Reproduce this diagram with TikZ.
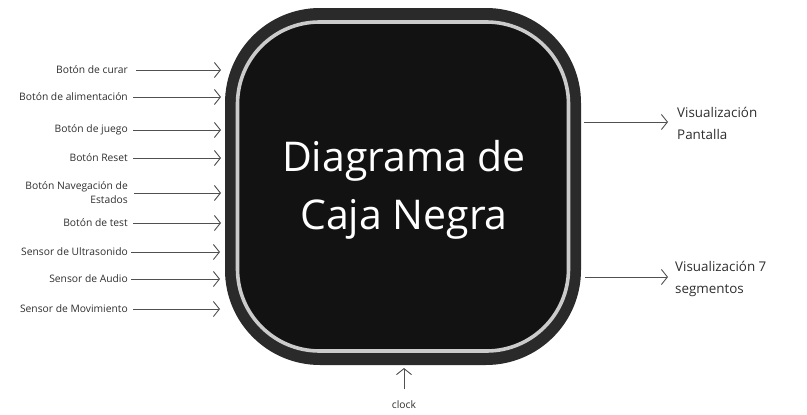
\documentclass[tikz,border=0pt]{standalone}
\usepackage{fontspec}
\setmainfont{Open Sans}
\usetikzlibrary{arrows.meta}
\definecolor{outerc}{HTML}{2B2A2A}
\definecolor{innerc}{HTML}{121212}
\definecolor{ringc}{HTML}{CBCBCB}
\definecolor{txtc}{HTML}{2E2E2E}
\definecolor{arrc}{HTML}{505050}
\tikzset{
  lbl/.style={font=\fontsize{10.3}{13}\selectfont, text=txtc, inner sep=0pt, align=right, anchor=east},
  outlbl/.style={font=\fontsize{13.4}{22}\selectfont, text=txtc, inner sep=0pt, align=left, anchor=west},
  conn/.style={draw=arrc, line width=0.9pt, -{Straight Barb[length=6pt,width=15pt,line width=0.9pt]}},
}
\begin{document}
\begin{tikzpicture}[x=1pt,y=-1pt]
\useasboundingbox (0,0) rectangle (807,415);
\node[fill=outerc, rounded corners=95pt, minimum width=356pt, minimum height=357pt, inner sep=0pt] (box) at (403,186.5) {};
\node[fill=innerc, draw=ringc, line width=3.6pt, rounded corners=82pt, minimum width=331pt, minimum height=329pt, inner sep=0pt] (inner) at (403,186.5) {};
\node[font=\fontsize{41}{58}\selectfont, text=white, align=center, inner sep=0pt] (title) at (404,190) {Diagrama de\\ Caja Negra};

% left inputs
\node[lbl] (l1) at (128,70) {Botón de curar};
\node[lbl] (l2) at (128,97) {Botón de alimentación};
\node[lbl] (l3) at (128,130) {Botón de juego};
\node[lbl] (l4) at (128,158) {Botón Reset};
\node[lbl, font=\fontsize{10.3}{14}\selectfont] (l5) at (128,193) {Botón Navegación de\\ Estados};
\node[lbl] (l6) at (128,223) {Botón de test};
\node[lbl] (l7) at (128,252) {Sensor de Ultrasonido};
\node[lbl] (l8) at (128,279) {Sensor de Audio};
\node[lbl] (l9) at (128,309) {Sensor de Movimiento};

\coordinate (s1) at (136,70);  \coordinate (e1) at (221,70);
\coordinate (s2) at (133,97);  \coordinate (e2) at (221,97);
\coordinate (s3) at (133,130); \coordinate (e3) at (221,130);
\coordinate (s4) at (133,158); \coordinate (e4) at (221,158);
\coordinate (s5) at (134,193); \coordinate (e5) at (221,193);
\coordinate (s6) at (133,223); \coordinate (e6) at (221,223);
\coordinate (s7) at (131,252); \coordinate (e7) at (220,252);
\coordinate (s8) at (131,279); \coordinate (e8) at (220,279);
\coordinate (s9) at (133,309); \coordinate (e9) at (220,309);
\foreach \i in {1,...,9} { \draw[conn] (s\i) -- (e\i); }

% outputs
\coordinate (o1s) at (584,122); \coordinate (o1e) at (668,122);
\coordinate (o2s) at (585,277); \coordinate (o2e) at (668,277);
\draw[conn] (o1s) -- (o1e);
\draw[conn] (o2s) -- (o2e);
\node[outlbl] (r1) at (677,123) {Visualización\\ Pantalla};
\node[outlbl] (r2) at (675,279) {Visualización 7\\ segmentos};

% clock
\coordinate (cks) at (404,389); \coordinate (cke) at (404,368);
\draw[conn] (cks) -- (cke);
\node[font=\fontsize{10.3}{13}\selectfont, text=txtc, inner sep=0pt] (ck) at (404,405) {clock};
\end{tikzpicture}
\end{document}
